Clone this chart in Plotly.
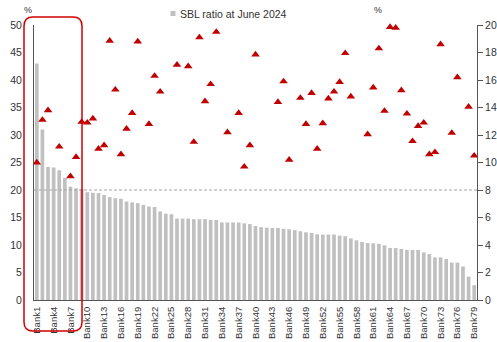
import plotly.graph_objects as go

# ---- data -------------------------------------------------------------
banks = [f"Bank{i}" for i in range(1, 80)]

sbl_ratio = [
    43.0, 31.0, 24.2, 24.1, 23.6, 22.2, 20.6, 20.3, 20.2, 19.6,
    19.5, 19.45, 19.1, 18.7, 18.5, 18.4, 17.9, 17.75, 17.6, 17.3,
    17.0, 16.9, 16.1, 15.7, 15.6, 14.8, 14.8, 14.8, 14.7, 14.7,
    14.7, 14.55, 14.55, 14.1, 14.1, 14.1, 14.1, 13.95, 13.8, 13.45,
    13.25, 13.15, 13.1, 13.1, 12.95, 12.85, 12.7, 12.5, 12.3, 12.2,
    11.95, 11.9, 11.9, 11.9, 11.7, 11.6, 11.2, 10.85, 10.55, 10.35,
    10.3, 10.2, 9.95, 9.45, 9.45, 9.3, 9.1, 9.1, 9.1, 8.65,
    8.35, 7.75, 7.75, 7.45, 6.8, 6.8, 6.1, 4.25, 2.7,
]

second_metric = [
    10.0, 13.1, 13.8, None, 11.15, None, 9.0, 10.4, 12.95, 12.9,
    13.2, 11.0, 11.25, 18.85, 15.3, 10.6, 12.45, 13.6, 18.8, None,
    12.8, 16.3, 15.15, None, None, 17.1, None, 17.0, 11.5, 19.1,
    14.45, 15.7, 19.5, None, 12.2, None, 13.6, 9.7, 11.25, 17.85,
    None, None, None, 14.4, 15.9, 10.2, None, 14.7, 12.8, 15.05,
    11.0, 12.85, 14.65, 15.15, 15.85, 17.95, 14.8, None, None, 12.05,
    15.45, 18.3, 13.75, 19.85, 19.8, 15.25, 13.55, 11.55, 12.65, 12.9,
    10.6, 10.75, 18.6, None, 12.15, 16.2, None, 14.05, 10.5,
]

tick_labels = banks[::3]
legend_label = "SBL ratio at June 2024"
threshold = 20

# ---- layout geometry ---------------------------------------------------
W, H = 497, 342
ML, MR, MT, MB = 34, 20, 25, 42
PW, PH = W - ML - MR, H - MT - MB

FONT = "Arial, Liberation Sans, sans-serif"
TXT = "#333333"
AX = "#555555"
BAR = "#c0c0c0"
RED = "#c00000"


def px_x(x):
    return (x - ML) / PW


def px_y(y):
    return (H - MB - y) / PH


fig = go.Figure()

fig.add_trace(go.Bar(
    x=banks, y=sbl_ratio, name=legend_label,
    marker=dict(color=BAR, line=dict(width=0)),
    yaxis="y", showlegend=False,
))

fig.add_trace(go.Scatter(
    x=banks, y=second_metric, mode="markers",
    marker=dict(symbol="triangle-up", size=7.5, color=RED, line=dict(width=0)),
    yaxis="y2", showlegend=False, cliponaxis=False,
))

shapes = []

# dashed reference line
shapes.append(dict(
    type="line", xref="paper", yref="y", x0=0, x1=1, y0=threshold, y1=threshold,
    line=dict(color="#a6a6a6", width=1, dash="3px,2px"), layer="above",
))

# highlight box around the banks above the reference line
x0, x1, y0, y1, r = 24, 82, 17, 331, 9
rx, ry = r / PW, r / PH
X0, X1, Y0, Y1 = px_x(x0), px_x(x1), px_y(y0), px_y(y1)
path = (
    f"M {X0 + rx},{Y0} L {X1 - rx},{Y0} Q {X1},{Y0} {X1},{Y0 - ry} "
    f"L {X1},{Y1 + ry} Q {X1},{Y1} {X1 - rx},{Y1} "
    f"L {X0 + rx},{Y1} Q {X0},{Y1} {X0},{Y1 + ry} "
    f"L {X0},{Y0 - ry} Q {X0},{Y0} {X0 + rx},{Y0} Z"
)
shapes.append(dict(type="path", xref="paper", yref="paper", path=path,
                   line=dict(color="#d00000", width=1.5), layer="above"))

# legend swatch
shapes.append(dict(type="rect", xref="paper", yref="paper",
                   x0=px_x(170.5), x1=px_x(175.5), y0=px_y(16), y1=px_y(11),
                   fillcolor=BAR, line=dict(width=0)))

annotations = [
    dict(text=legend_label, xref="paper", yref="paper", x=px_x(178), y=px_y(13.5),
         xanchor="left", yanchor="middle", showarrow=False,
         font=dict(size=10.5, color=TXT, family=FONT)),
    dict(text="%", xref="paper", yref="paper", x=px_x(27.5), y=px_y(10),
         xanchor="center", yanchor="middle", showarrow=False,
         font=dict(size=9, color=TXT, family=FONT)),
    dict(text="%", xref="paper", yref="paper", x=px_x(378), y=px_y(10),
         xanchor="center", yanchor="middle", showarrow=False,
         font=dict(size=9, color=TXT, family=FONT)),
]

fig.update_layout(
    width=W, height=H,
    margin=dict(l=ML, r=MR, t=MT, b=MB, pad=0, autoexpand=False),
    paper_bgcolor="white", plot_bgcolor="white",
    font=dict(family=FONT, size=10.5, color=TXT),
    bargap=0.34,
    showlegend=False,
    shapes=shapes,
    annotations=annotations,
    xaxis=dict(
        type="category", categoryorder="array", categoryarray=banks,
        tickmode="array", tickvals=tick_labels, ticktext=tick_labels,
        tickangle=-90, ticks="outside", ticklen=2, tickcolor="rgba(0,0,0,0)",
        showgrid=False, zeroline=False, automargin=False,
        showline=True, linecolor=AX, linewidth=1,
        tickfont=dict(size=9.5, color=TXT, family=FONT),
        range=[-0.5, len(banks) - 0.5],
    ),
    yaxis=dict(
        range=[0, 50], tickmode="linear", tick0=0, dtick=5,
        showgrid=False, zeroline=False, automargin=False,
        showline=True, linecolor=AX, linewidth=1,
        ticks="outside", ticklen=9, tickcolor="rgba(0,0,0,0)",
        tickfont=dict(size=10.5, color=TXT, family=FONT),
    ),
    yaxis2=dict(
        range=[0, 20], tickmode="linear", tick0=0, dtick=2,
        overlaying="y", side="right", anchor="x",
        showgrid=False, zeroline=False, automargin=False,
        showline=True, linecolor=AX, linewidth=1,
        ticks="outside", ticklen=5, tickcolor=AX,
        tickfont=dict(size=10.5, color=TXT, family=FONT),
    ),
)

fig.write_html("out.html")
